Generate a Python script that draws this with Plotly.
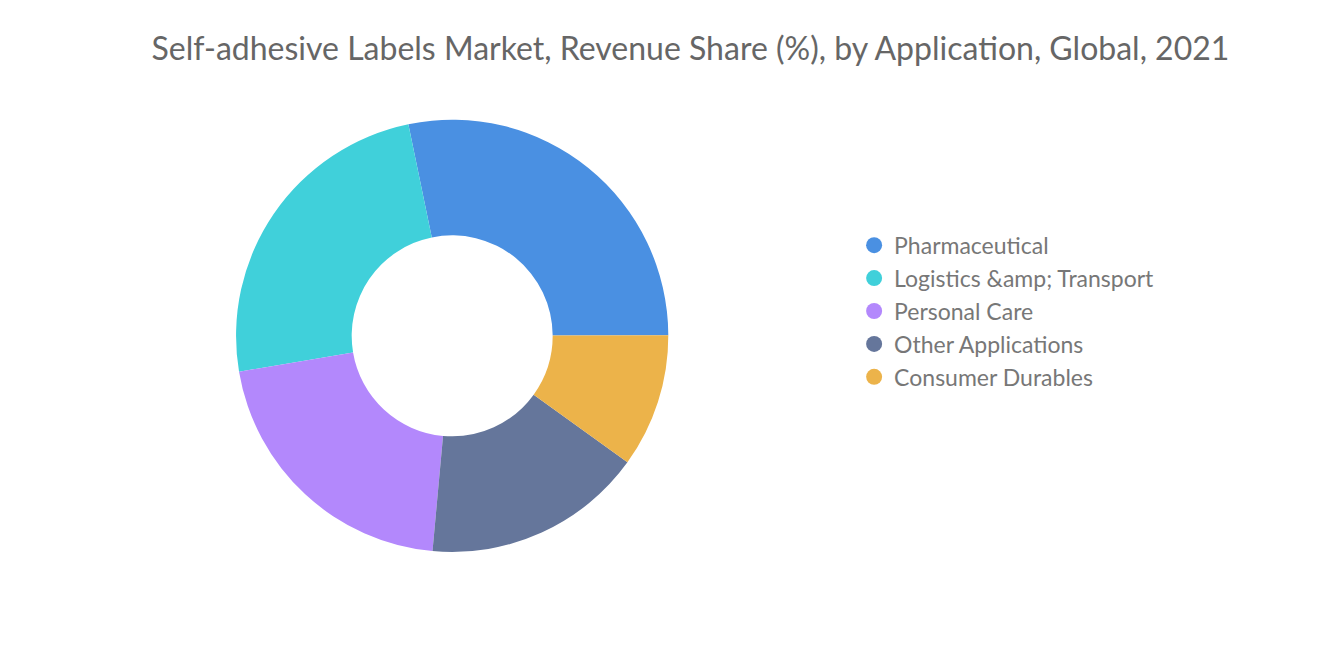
import plotly.graph_objects as go

labels = ["Pharmaceutical", "Logistics &amp;amp; Transport", "Personal Care", "Other Applications", "Consumer Durables"]
values = [28.2, 24.4, 20.9, 16.5, 10.0]
colors = ["#4a90e2", "#40d0da", "#b388fc", "#65769b", "#ecb34a"]

fig = go.Figure(go.Pie(
    labels=labels, values=values, hole=0.465, sort=False,
    direction="counterclockwise", rotation=-11.7,
    marker=dict(colors=colors), textinfo="none", hoverinfo="label+percent",
    domain=dict(x=[0.164, 0.509], y=[0.182, 0.832]), showlegend=False,
))
for lab, col in zip(labels, colors):
    fig.add_trace(go.Scatter(x=[None], y=[None], mode="markers", name=lab,
                             marker=dict(color=col, size=24, symbol="circle")))
fig.update_xaxes(visible=False)
fig.update_yaxes(visible=False)
fig.update_layout(
    width=1320, height=665, paper_bgcolor="white", plot_bgcolor="white",
    margin=dict(l=0, r=0, t=0, b=0),
    font=dict(family="Lato", color="#777777"),
    title=dict(text="Self-adhesive Labels Market, Revenue Share (%), by Application, Global, 2021",
               x=0.517, xanchor="center", y=0.938, yanchor="middle",
               font=dict(size=32, color="#666666", family="Lato")),
    legend=dict(x=0.641, y=0.544, xanchor="left", yanchor="middle",
                font=dict(size=23, color="#777777"), itemsizing="trace",
                tracegroupgap=0),
)
fig.write_html("out.html")
